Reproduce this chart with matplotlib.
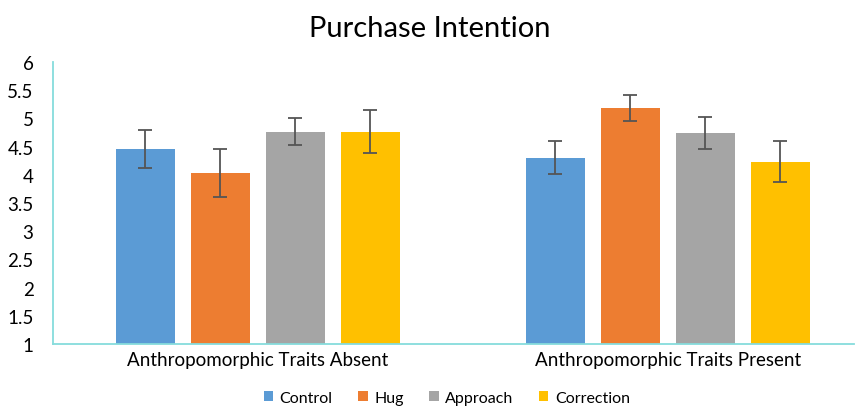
import numpy as np
import matplotlib.pyplot as plt

plt.rcParams['font.family'] = ['Lato', 'DejaVu Sans']

groups = ['Anthropomorphic Traits Absent', 'Anthropomorphic Traits Present']
conditions = ['Control', 'Hug', 'Approach', 'Correction']
colors = ['#5B9BD5', '#ED7D31', '#A5A5A5', '#FFC000']
means = {
    'Control': [4.46, 4.30],
    'Hug': [4.03, 5.18],
    'Approach': [4.76, 4.74],
    'Correction': [4.76, 4.23],
}
errors = {
    'Control': [0.34, 0.29],
    'Hug': [0.43, 0.23],
    'Approach': [0.24, 0.28],
    'Correction': [0.38, 0.36],
}

fig = plt.figure(figsize=(8.59, 4.10), dpi=100)
ax = fig.add_axes([0.0617, 0.1585, 0.933, 0.688])

x = np.arange(len(groups))
width = 0.144
step = 0.183
for i, cond in enumerate(conditions):
    pos = x + (i - 1.5) * step
    heights = np.array(means[cond]) - 1
    ax.bar(pos, heights, width, bottom=1, color=colors[i], label=cond,
           yerr=errors[cond], error_kw=dict(ecolor='#555555', elinewidth=1.3, capsize=5, capthick=1.3))

ax.set_xlim(-0.5, 1.456)
ax.set_ylim(1, 6)
ax.set_yticks(np.arange(1, 6.01, 0.5))
ax.set_yticklabels(['1', '1.5', '2', '2.5', '3', '3.5', '4', '4.5', '5', '5.5', '6'])
ax.set_xticks(x)
ax.set_xticklabels(groups)
ax.tick_params(length=0, labelsize=13.5, pad=5)
ax.tick_params(axis='y', pad=14)
for s in ['top', 'right']:
    ax.spines[s].set_visible(False)
for s in ['left', 'bottom']:
    ax.spines[s].set_color('#86DCDC')
    ax.spines[s].set_linewidth(1.3)

fig.suptitle('Purchase Intention', fontsize=21, y=0.96)
fig.legend(loc='lower center', bbox_to_anchor=(0.52, -0.025), ncol=4, frameon=False,
           fontsize=11.5, handlelength=0.6, handleheight=0.6, columnspacing=1.6, handletextpad=0.4)

plt.savefig('out.png', dpi=100)
